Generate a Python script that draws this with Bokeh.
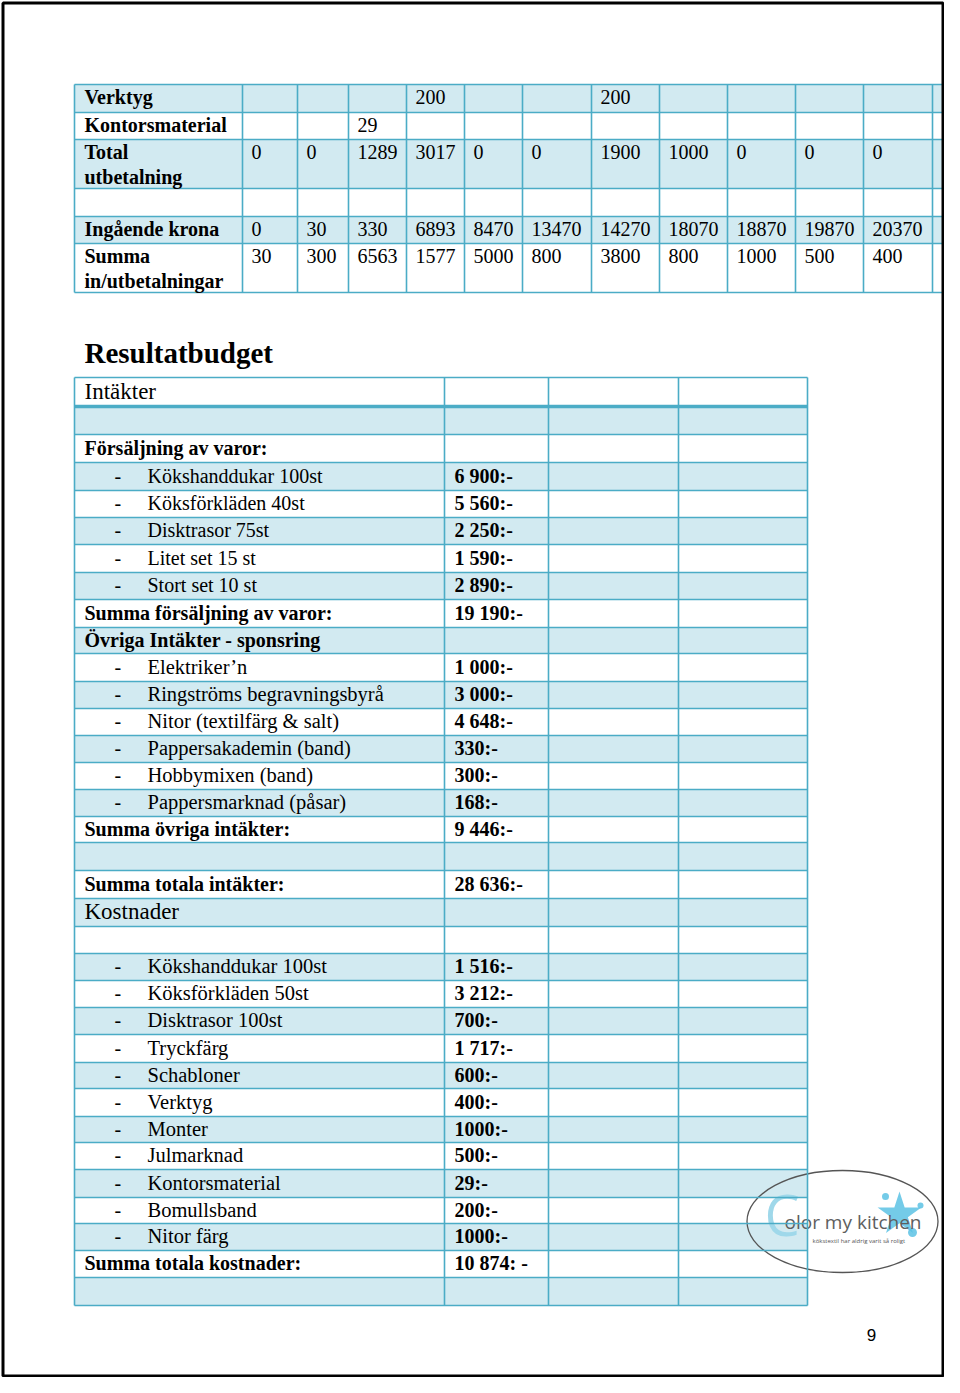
from bokeh.plotting import figure
from bokeh.models import Range1d
from bokeh.core.properties import value
from bokeh.embed import file_html
from bokeh.resources import INLINE

# ---------------- data: cash-flow table (continuation) ----------------
cash_labels = ["Verktyg", "Kontorsmaterial", "Total\nutbetalning", "",
               "Ingående krona", "Summa\nin/utbetalningar"]
cash_verktyg = ["", "", "", "200", "", "", "200", "", "", "", ""]
cash_kontorsmaterial = ["", "", "29", "", "", "", "", "", "", "", ""]
cash_total_utbetalning = [0, 0, 1289, 3017, 0, 0, 1900, 1000, 0, 0, 0]
cash_blank = ["", "", "", "", "", "", "", "", "", "", ""]
cash_ingaende_krona = [0, 30, 330, 6893, 8470, 13470, 14270, 18070, 18870, 19870, 20370]
cash_summa_in_ut = [30, 300, 6563, 1577, 5000, 800, 3800, 800, 1000, 500, 400]
cash_values = [cash_verktyg, cash_kontorsmaterial, cash_total_utbetalning,
               cash_blank, cash_ingaende_krona, cash_summa_in_ut]

# ---------------- data: Resultatbudget ----------------
title = "Resultatbudget"
budget_labels = [
    "Intäkter", "", "Försäljning av varor:",
    "Kökshanddukar 100st", "Köksförkläden 40st", "Disktrasor 75st",
    "Litet set 15 st", "Stort set 10 st", "Summa försäljning av varor:",
    "Övriga Intäkter - sponsring",
    "Elektriker’n", "Ringströms begravningsbyrå", "Nitor (textilfärg & salt)",
    "Pappersakademin (band)", "Hobbymixen (band)", "Pappersmarknad (påsar)",
    "Summa övriga intäkter:", "", "Summa totala intäkter:",
    "Kostnader", "",
    "Kökshanddukar 100st", "Köksförkläden 50st", "Disktrasor 100st",
    "Tryckfärg", "Schabloner", "Verktyg", "Monter", "Julmarknad",
    "Kontorsmaterial", "Bomullsband", "Nitor färg",
    "Summa totala kostnader:", "",
]
budget_values = [
    "", "", "",
    "6 900:-", "5 560:-", "2 250:-", "1 590:-", "2 890:-", "19 190:-",
    "",
    "1 000:-", "3 000:-", "4 648:-", "330:-", "300:-", "168:-",
    "9 446:-", "", "28 636:-",
    "", "",
    "1 516:-", "3 212:-", "700:-", "1 717:-", "600:-", "400:-", "1000:-",
    "500:-", "29:-", "200:-", "1000:-",
    "10 874: -", "",
]
budget_kinds = [
    "heading", "blank", "section",
    "item", "item", "item", "item", "item", "sum",
    "section",
    "item", "item", "item", "item", "item", "item",
    "sum", "blank", "sum",
    "heading", "blank",
    "item", "item", "item", "item", "item", "item", "item", "item",
    "item", "item", "item",
    "sum", "blank",
]
page_number = "9"
logo_name = "olor my kitchen"
logo_tagline = "kökstextil har aldrig varit så roligt"

# ---------------- layout (page pixel coordinates) ----------------
CASH_X = [74, 242, 297, 348, 406, 464, 522, 591, 659, 727, 795, 863, 932, 951]
CASH_Y = [84, 112, 139, 188, 216, 243, 292]
BUDGET_X = [74, 444, 548, 678, 807]
BUDGET_Y = [377, 406, 434, 462, 490, 517, 544, 572, 599, 627, 653, 681, 708,
            735, 762, 789, 816, 842, 870, 898, 926, 953, 980, 1007, 1034, 1062,
            1088, 1116, 1142, 1169, 1197, 1223, 1250, 1277, 1305]

W, H = 944, 1377
BLUE = "#D2EAF1"
LINE = "#4BACC6"
SERIF = value("Liberation Serif")
SANS = value("Open Sans")

p = figure(width=W, height=H, x_range=Range1d(0, W), y_range=Range1d(H, 0),
           output_backend="svg", toolbar_location=None, min_border=0,
           x_axis_location=None, y_axis_location=None)
p.grid.visible = False
p.outline_line_color = None
p.background_fill_color = "white"
p.border_fill_color = "white"

# ---------- cash table ----------
n_cash = len(cash_labels)
p.quad(left=[CASH_X[0]] * n_cash, right=[CASH_X[-1]] * n_cash,
       top=CASH_Y[:-1], bottom=CASH_Y[1:],
       fill_color=[BLUE if i % 2 == 0 else "white" for i in range(n_cash)],
       line_color=None)
p.segment(x0=[CASH_X[0]] * len(CASH_Y), x1=[CASH_X[-1]] * len(CASH_Y),
          y0=CASH_Y, y1=CASH_Y, line_color=LINE, line_width=1.6)
p.segment(x0=CASH_X, x1=CASH_X, y0=[CASH_Y[0]] * len(CASH_X),
          y1=[CASH_Y[-1]] * len(CASH_X), line_color=LINE, line_width=1.6)

lx, ly, lt = [], [], []
for i, lab in enumerate(cash_labels):
    for k, line in enumerate(lab.split("\n")):
        lx.append(84)
        ly.append(CASH_Y[i] + 12.5 + 24.5 * k)
        lt.append(line)
p.text(x=lx, y=ly, text=lt, text_font=SERIF, text_font_size="20px",
       text_font_style="bold", text_baseline="middle", text_color="black")

vx, vy, vt = [], [], []
for i, row in enumerate(cash_values):
    for j, v in enumerate(row):
        if str(v) != "":
            vx.append(CASH_X[j + 1] + 9)
            vy.append(CASH_Y[i] + 12.5)
            vt.append(str(v))
p.text(x=vx, y=vy, text=vt, text_font=SERIF, text_font_size="20px",
       text_baseline="middle", text_color="black")

# ---------- title ----------
p.text(x=[84], y=[352], text=[title], text_font=SERIF, text_font_size="29px",
       text_font_style="bold", text_baseline="middle", text_color="black")

# ---------- budget table ----------
n_b = len(budget_labels)
p.quad(left=[BUDGET_X[0]] * n_b, right=[BUDGET_X[-1]] * n_b,
       top=BUDGET_Y[:-1], bottom=BUDGET_Y[1:],
       fill_color=["white" if i % 2 == 0 else BLUE for i in range(n_b)],
       line_color=None)

# logo (drawn under the table lines)
p.ellipse(x=[842], y=[1221], width=[191], height=[102], fill_color=None,
          line_color="#555555", line_width=1.3)
p.text(x=[764], y=[1213], text=["C"], text_font=SANS, text_font_size="56px",
       text_baseline="middle", text_color="#9fd8ea")
p.scatter(x=[899], y=[1214], size=46, marker="star", fill_color="#5cc2e4",
          line_color=None, fill_alpha=0.85)
p.scatter(x=[912, 885, 920], y=[1232, 1196, 1205], size=[9, 7, 6], marker="circle",
          fill_color="#5cc2e4", line_color=None, fill_alpha=0.85)
p.text(x=[784], y=[1221], text=[logo_name], text_font=SANS, text_font_size="19px",
       text_baseline="middle", text_color="#5e5e5e")
p.text(x=[812], y=[1240], text=[logo_tagline], text_font=SANS, text_font_size="6px",
       text_baseline="middle", text_color="#555555")

p.segment(x0=[BUDGET_X[0]] * len(BUDGET_Y), x1=[BUDGET_X[-1]] * len(BUDGET_Y),
          y0=BUDGET_Y, y1=BUDGET_Y, line_color=LINE,
          line_width=[3.5 if i == 1 else 1.6 for i in range(len(BUDGET_Y))])
p.segment(x0=BUDGET_X, x1=BUDGET_X, y0=[BUDGET_Y[0]] * len(BUDGET_X),
          y1=[BUDGET_Y[-1]] * len(BUDGET_X), line_color=LINE, line_width=1.6)

groups = {}
def add(key, x, y, t):
    groups.setdefault(key, ([], [], []))
    groups[key][0].append(x)
    groups[key][1].append(y)
    groups[key][2].append(t)

for i, (lab, val, kind) in enumerate(zip(budget_labels, budget_values, budget_kinds)):
    yc = (BUDGET_Y[i] + BUDGET_Y[i + 1]) / 2 - 1
    item_size = "20px" if i < 9 else "20.5px"
    if kind == "heading":
        add(("normal", "23px"), 84, yc, lab)
    elif kind == "section" or kind == "sum":
        add(("bold", "20px"), 84, yc, lab)
    elif kind == "item":
        add(("normal", "20px"), 114, yc, "-")
        add(("normal", item_size), 147, yc, lab)
    if val:
        add(("bold", "20px"), 454, yc, val)

for (style, size), (xs, ys, ts) in groups.items():
    p.text(x=xs, y=ys, text=ts, text_font=SERIF, text_font_size=size,
           text_font_style=style, text_baseline="middle", text_color="black")

# ---------- page number & page frame ----------
p.text(x=[871], y=[1334], text=[page_number], text_font=value("Liberation Sans"),
       text_font_size="17px", text_align="center", text_baseline="middle",
       text_color="black")
p.quad(left=[2.5], right=[W - 1.5], top=[2.5], bottom=[H - 1.5], fill_color=None,
       line_color="black", line_width=3)

open("out.html", "w").write(file_html(p, INLINE))
